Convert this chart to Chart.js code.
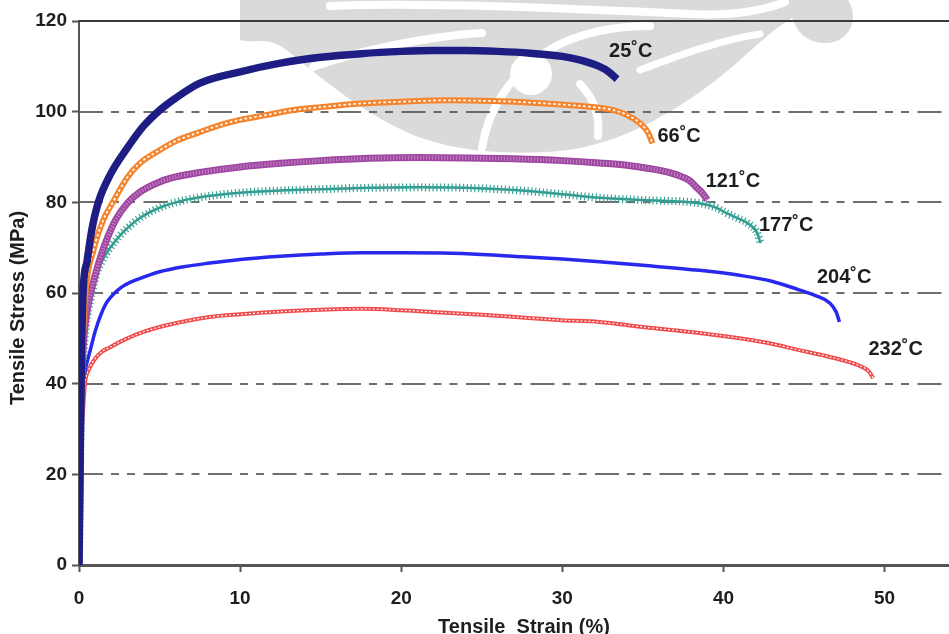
<!DOCTYPE html>
<html>
<head>
<meta charset="utf-8">
<script src="https://cdn.jsdelivr.net/npm/chart.js@4.4.1/dist/chart.umd.min.js"></script>
<style>
  html, body { margin: 0; padding: 0; background: #fff; overflow: hidden; }
  #wrap { width: 949px; height: 634px; }
</style>
</head>
<body>
<div id="wrap"><canvas id="c" width="949" height="634"></canvas></div>
<script>
// Tensile stress–strain curves at six test temperatures
const temperatures = ['25˚C', '66˚C', '121˚C', '177˚C', '204˚C', '232˚C'];

const strain25 = [0, 0.05, 0.1, 0.15, 0.25, 0.5, 0.8, 1.2, 2, 3, 4, 5, 6, 7.5, 10, 12.5, 15, 17.5, 20, 22, 24, 26, 28, 30, 31, 32, 32.8, 33.4];
const stress25 = [0, 16, 32, 45, 60, 67, 74, 80, 86.5, 92, 96.8, 100.3, 103, 106.3, 108.8, 110.7, 112, 112.8, 113.3, 113.5, 113.5, 113.3, 112.9, 112.2, 111.5, 110.4, 109, 107.2];

const strain66 = [0, 0.05, 0.1, 0.15, 0.25, 0.4, 0.9, 1.5, 2.1, 3, 3.8, 5, 6, 7.5, 9, 10, 11.7, 13, 15, 17.5, 20, 22.8, 25, 27, 29, 31, 33.1, 34, 34.8, 35.3, 35.6];
const stress66 = [0, 12, 25, 38, 50, 60, 69.5, 76, 80, 85.5, 88.7, 91.5, 93.5, 95.5, 97.3, 98.2, 99.3, 100.2, 101, 101.8, 102.2, 102.5, 102.4, 102.2, 101.8, 101.3, 100.4, 99.3, 97.5, 95.5, 93];

const strain121 = [0, 0.05, 0.1, 0.2, 0.35, 0.6, 0.9, 1.3, 1.8, 2.3, 3, 3.8, 5, 6, 7.5, 10, 12.5, 15, 18, 21, 24, 27, 30, 32.3, 34, 35.5, 36.5, 37.3, 37.9, 38.3, 38.7, 39];
const stress121 = [0, 15, 30, 44, 52, 58, 62.5, 67.5, 72.5, 76.3, 79.8, 82.3, 84.5, 85.6, 86.6, 87.8, 88.6, 89.2, 89.7, 89.9, 89.8, 89.6, 89.2, 88.7, 88.2, 87.4, 86.7, 85.8, 84.8, 83.4, 82, 80.5];

const strain177 = [0, 0.05, 0.1, 0.2, 0.35, 0.5, 0.8, 1.1, 1.5, 1.9, 2.5, 3, 3.8, 5, 6, 7.5, 10, 12.5, 15, 18, 21, 24, 27, 30, 32.3, 35, 38.5, 39.5, 40.2, 41, 41.5, 42.1, 42.3];
const stress177 = [0, 15, 30, 42, 50, 54.7, 60, 64.4, 67.5, 69.8, 72.5, 74.3, 76.6, 78.8, 80, 81.1, 82.1, 82.6, 82.9, 83.2, 83.3, 83.2, 82.7, 81.8, 81, 80.5, 79.8, 78.9, 77.6, 76.3, 75.4, 73.2, 71];

const strain204 = [0, 0.05, 0.1, 0.15, 0.25, 0.45, 0.7, 1, 1.3, 1.7, 2.1, 2.6, 3.2, 4, 5, 6.5, 8.1, 10, 12.5, 15, 17.5, 20, 22.5, 25, 27.5, 30, 32.3, 35, 38.5, 41, 43, 44.7, 45.8, 46.6, 47, 47.2];
const stress204 = [0, 10, 25, 35, 40, 44, 47.4, 51.5, 54.7, 57.8, 59.6, 61.2, 62.4, 63.5, 64.7, 65.8, 66.6, 67.4, 68.1, 68.6, 68.9, 68.9, 68.8, 68.5, 68, 67.5, 66.9, 66.1, 65, 63.9, 62.6, 60.7, 59.3, 57.8, 55.8, 53.6];

const strain232 = [0, 0.05, 0.1, 0.15, 0.25, 0.37, 0.6, 1, 1.4, 1.9, 3, 4, 5, 6.5, 8.1, 10, 12.5, 15, 17.5, 20, 22.5, 25, 27.5, 30, 32.3, 35, 38.5, 41, 43, 44.7, 46.5, 48.4, 49, 49.3];
const stress232 = [0, 10, 20, 28, 34, 40, 43, 45.5, 47, 48, 50, 51.4, 52.5, 53.7, 54.7, 55.3, 55.9, 56.3, 56.5, 56.2, 55.7, 55.2, 54.6, 54, 53.6, 52.5, 51.2, 50, 48.8, 47.4, 46, 44, 42.8, 41.2];

const xTickValues = [0, 10, 20, 30, 40, 50];
const yTickValues = [0, 20, 40, 60, 80, 100, 120];
const xTitle = 'Tensile  Strain (%)';
const yTitle = 'Tensile Stress (MPa)';

const seriesStrain = [strain25, strain66, strain121, strain177, strain204, strain232];
const seriesStress = [stress25, stress66, stress121, stress177, stress204, stress232];

// Appearance of each curve: a base stroke and an optional textured overlay
const curveStyles = [
  { color: '#1d1d84', width: 7.5, overlay: null },
  { color: '#f5842c', width: 6, overlay: { color: '#ffffff', width: 1.8, dash: [2.5, 2.5] } },
  { color: '#9e46a0', width: 7, overlay: { color: 'rgba(230,190,232,0.55)', width: 4, dash: [1, 2] } },
  { color: '#2f9a8f', width: 2.5, overlay: { color: '#3aa397', width: 8, dash: [1.2, 2.6] } },
  { color: '#2828ee', width: 3.5, overlay: null },
  { color: '#f04a4a', width: 4, overlay: { color: '#ffffff', width: 1.2, dash: [2, 2] } }
];

// Where each temperature label sits (left edge, vertical centre) in axis units
const labelAnchors = [
  [32.9, 113.2], [35.9, 94.6], [38.9, 84.7], [42.2, 74.8], [45.8, 63.5], [49.0, 47.6]
];

const points = (xs, ys) => xs.map((x, i) => ({ x, y: ys[i] }));

const datasets = [];
seriesStrain.forEach((xs, i) => {
  const st = curveStyles[i];
  const data = points(xs, seriesStress[i]);
  if (st.overlay) {
    datasets.push({
      label: temperatures[i] + ' texture',
      data,
      borderColor: st.overlay.color,
      borderWidth: st.overlay.width,
      borderDash: st.overlay.dash,
      pointRadius: 0,
      cubicInterpolationMode: 'monotone',
      order: i * 2
    });
  }
  datasets.push({
    label: temperatures[i],
    data,
    borderColor: st.color,
    borderWidth: st.width,
    pointRadius: 0,
    cubicInterpolationMode: 'monotone',
    order: i * 2 + 1
  });
});

const FONT = '"Liberation Sans", Arial, sans-serif';

// Faint ornamental watermark behind the plot
function drawWatermark(ctx) {
  ctx.save();
  ctx.fillStyle = '#dadada';
  ctx.beginPath();
  ctx.moveTo(240, 0);
  ctx.lineTo(848, 0);
  ctx.bezierCurveTo(860, 18, 850, 44, 824, 43);
  ctx.bezierCurveTo(804, 42, 797, 30, 792, 18);
  ctx.bezierCurveTo(762, 36, 738, 66, 700, 92);
  ctx.bezierCurveTo(660, 120, 612, 146, 560, 151);
  ctx.bezierCurveTo(500, 156, 440, 150, 398, 128);
  ctx.bezierCurveTo(350, 104, 312, 70, 284, 48);
  ctx.bezierCurveTo(266, 36, 252, 44, 240, 40);
  ctx.closePath();
  ctx.fill();

  ctx.strokeStyle = '#ffffff';
  ctx.lineCap = 'round';
  ctx.lineWidth = 8;
  ctx.beginPath();
  ctx.moveTo(330, 6);
  ctx.bezierCurveTo(420, 2, 560, 8, 690, 14);
  ctx.bezierCurveTo(735, 16, 765, 10, 785, 2);
  ctx.stroke();

  ctx.lineWidth = 8;
  ctx.beginPath();
  ctx.moveTo(313, 67);
  ctx.bezierCurveTo(360, 50, 430, 36, 482, 33);
  ctx.stroke();

  ctx.beginPath();
  ctx.moveTo(482, 148);
  ctx.bezierCurveTo(488, 110, 510, 70, 560, 44);
  ctx.bezierCurveTo(590, 30, 620, 26, 650, 26);
  ctx.stroke();

  ctx.beginPath();
  ctx.moveTo(580, 84);
  ctx.bezierCurveTo(596, 100, 600, 120, 598, 136);
  ctx.stroke();

  ctx.lineWidth = 7;
  ctx.beginPath();
  ctx.moveTo(640, 70);
  ctx.bezierCurveTo(680, 55, 720, 40, 760, 34);
  ctx.stroke();

  ctx.fillStyle = '#ffffff';
  ctx.beginPath();
  ctx.arc(531, 74, 21, 0, Math.PI * 2);
  ctx.fill();
  ctx.restore();
}

const decorPlugin = {
  id: 'decor',
  beforeDraw(chart) {
    drawWatermark(chart.ctx);
  },
  beforeDatasetsDraw(chart) {
    const { ctx, chartArea, scales } = chart;
    ctx.save();
    yTickValues.forEach(v => {
      if (v === 0) return;
      const py = Math.round(scales.y.getPixelForValue(v));
      ctx.beginPath();
      if (v === 120) {
        ctx.setLineDash([]);
        ctx.strokeStyle = '#3a3a3a';
        ctx.lineWidth = 2;
      } else {
        ctx.setLineDash([24, 8, 8, 8, 8, 8.5]);
        ctx.strokeStyle = 'rgba(85,85,85,0.85)';
        ctx.lineWidth = 2;
      }
      ctx.moveTo(chartArea.left, py);
      ctx.lineTo(chartArea.right, py);
      ctx.stroke();
    });
    ctx.restore();
  },
  afterDatasetsDraw(chart) {
    const { ctx, scales } = chart;
    ctx.save();
    ctx.fillStyle = '#1e1e1e';
    ctx.font = 'bold 20px ' + FONT;
    ctx.textAlign = 'left';
    ctx.textBaseline = 'middle';
    temperatures.forEach((t, i) => {
      const [lx, ly] = labelAnchors[i];
      ctx.fillText(t, scales.x.getPixelForValue(lx), scales.y.getPixelForValue(ly));
    });

    ctx.font = 'bold 20px ' + FONT;
    ctx.textAlign = 'center';
    ctx.fillText(xTitle, 524, 627);

    ctx.translate(18, 308);
    ctx.rotate(-Math.PI / 2);
    ctx.fillText(yTitle, 0, 0);
    ctx.restore();
  }
};

new Chart(document.getElementById('c'), {
  type: 'line',
  data: { datasets },
  plugins: [decorPlugin],
  options: {
    responsive: false,
    animation: false,
    devicePixelRatio: 1,
    layout: { padding: { left: 0, top: 21, right: 0, bottom: 0 } },
    plugins: { legend: { display: false }, tooltip: { enabled: false } },
    scales: {
      x: {
        type: 'linear',
        min: 0,
        max: 54,
        afterBuildTicks: s => { s.ticks = xTickValues.map(v => ({ value: v })); },
        afterFit: s => { s.height = 69; },
        ticks: {
          color: '#1e1e1e',
          font: { family: FONT, size: 19, weight: 'bold' },
          padding: 15,
          maxRotation: 0
        },
        grid: { drawOnChartArea: false, drawTicks: true, tickLength: 7, tickColor: '#555', tickWidth: 2 },
        border: { display: true, color: '#555', width: 3 }
      },
      y: {
        type: 'linear',
        min: 0,
        max: 120,
        afterBuildTicks: s => { s.ticks = yTickValues.map(v => ({ value: v })); },
        afterFit: s => { s.width = 79; },
        ticks: {
          color: '#1e1e1e',
          font: { family: FONT, size: 19, weight: 'bold' },
          padding: 5
        },
        grid: { drawOnChartArea: false, drawTicks: true, tickLength: 7, tickColor: '#555', tickWidth: 2 },
        border: { display: true, color: '#555', width: 2 }
      }
    }
  }
});
</script>
</body>
</html>
